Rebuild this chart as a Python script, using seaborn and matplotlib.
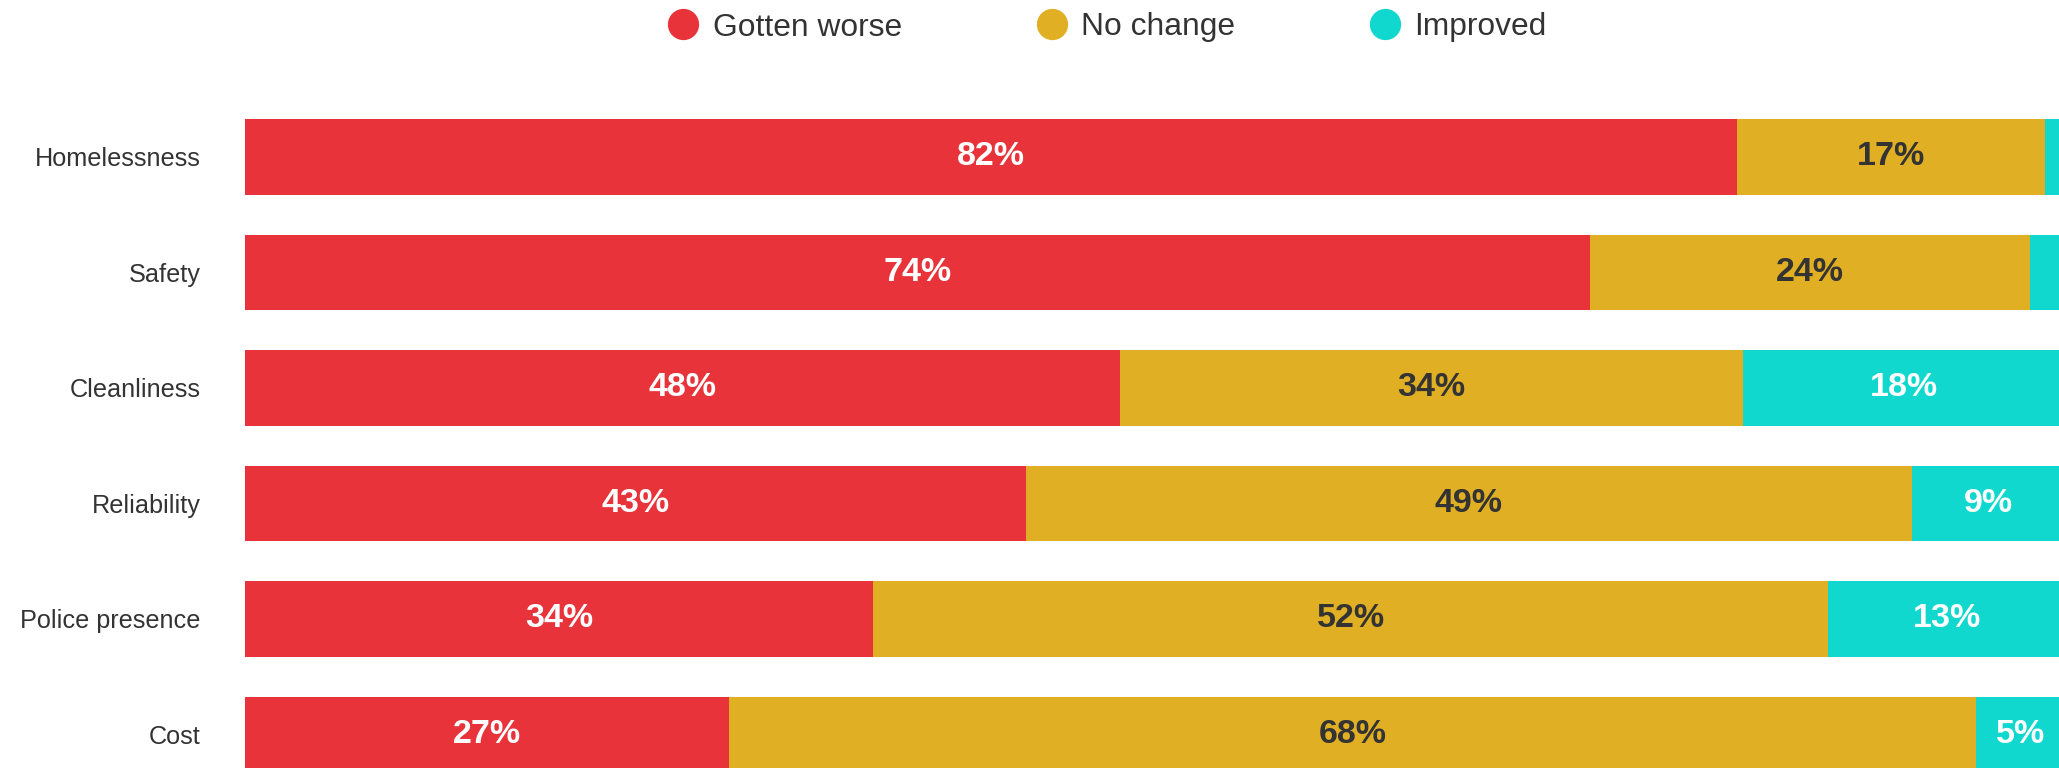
import numpy as np
import matplotlib
matplotlib.use("Agg")
import matplotlib.pyplot as plt
from matplotlib.lines import Line2D
import seaborn as sns
import pandas as pd

# Survey answers: share of respondents per topic (percent)
categories = ["Homelessness", "Safety", "Cleanliness", "Reliability", "Police presence", "Cost"]
worse = [82.0, 73.9, 48.1, 42.9, 34.5, 26.6]
no_change = [16.9, 24.2, 34.2, 48.7, 52.5, 68.5]
improved = [1.1, 1.9, 17.7, 8.4, 13.0, 4.9]

# printed labels (rounded as in the source)
worse_lbl = [82, 74, 48, 43, 34, 27]
no_change_lbl = [17, 24, 34, 49, 52, 68]
improved_lbl = [1, 2, 18, 9, 13, 5]

series_names = ["Gotten worse", "No change", "Improved"]
colors = ["#E8333A", "#E0AF23", "#10D8CE"]
label_colors = ["white", "#333333", "white"]

sns.set_theme(style="white")
plt.rcParams["font.family"] = ["Liberation Sans", "DejaVu Sans"]

df = pd.DataFrame({
    "topic": categories,
    "worse": worse,
    "no_change": no_change,
    "improved": improved,
})
df["c1"] = df["worse"]
df["c2"] = df["worse"] + df["no_change"]
df["c3"] = df["c2"] + df["improved"]

fig = plt.figure(figsize=(20.59, 7.68), dpi=100)
ax = fig.add_axes([245 / 2059, 0, 1820 / 2059, 1])

# stacked bars by overlaying cumulative totals
for col, colr in zip(["c3", "c2", "c1"], colors[::-1]):
    sns.barplot(data=df, x=col, y="topic", order=categories, orient="h",
                color=colr, saturation=1, width=0.65, linewidth=0,
                errorbar=None, ax=ax)

ax.set_xlim(0, 100)
ax.set_ylim(5.290, -1.359)
ax.set_xlabel("")
ax.set_ylabel("")
ax.set_xticks([])
ax.tick_params(axis="y", length=0, pad=32, labelsize=18.2, labelcolor="#333333")
for s in ax.spines.values():
    s.set_visible(False)

# segment labels
shares = [worse, no_change, improved]
lbls = [worse_lbl, no_change_lbl, improved_lbl]
for i in range(len(categories)):
    left = 0.0
    for k in range(3):
        w = shares[k][i]
        if w >= 3:
            ax.text(left + w / 2, i, f"{lbls[k][i]}%", ha="center", va="center",
                    fontsize=24.5, fontweight="bold", color=label_colors[k])
        left += w

# legend at top
handles = [Line2D([0], [0], marker="o", linestyle="", markersize=21.5,
                  markerfacecolor=c, markeredgecolor=c) for c in colors]
fig.legend(handles, series_names, loc="center", bbox_to_anchor=(0.5376, 1 - 27.5 / 768),
           ncol=3, frameon=False, fontsize=22.9, handlelength=1.0,
           handletextpad=0.43, columnspacing=4.2, borderpad=0,
           labelcolor="#333333")

fig.savefig("out.png", dpi=100, facecolor="white")
